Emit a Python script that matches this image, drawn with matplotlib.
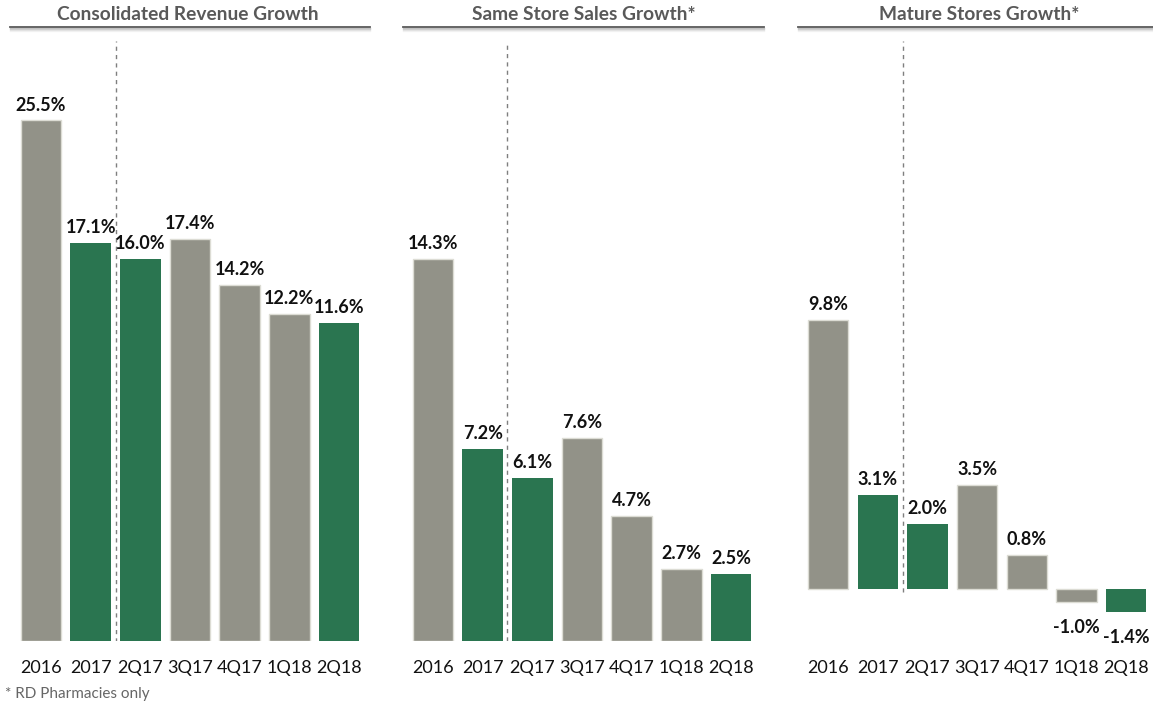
import matplotlib
matplotlib.use("Agg")
import matplotlib.pyplot as plt
from matplotlib.lines import Line2D

plt.rcParams["font.family"] = ["Lato", "DejaVu Sans"]

# data
periods = ["2016", "2017", "2Q17", "3Q17", "4Q17", "1Q18", "2Q18"]
highlight = [False, True, True, False, False, False, True]

titles = ["Consolidated Revenue Growth", "Same Store Sales Growth*", "Mature Stores Growth*"]
revenue_growth = [25.5, 17.1, 16.0, 17.4, 14.2, 12.2, 11.6]
same_store_growth = [14.3, 7.2, 6.1, 7.6, 4.7, 2.7, 2.5]
mature_store_growth = [9.8, 3.1, 2.0, 3.5, 0.8, -1.0, -1.4]
footnote = "* RD Pharmacies only"

GRAY = "#929288"
GREEN = "#2a7550"
W, H = 1153, 706


def fx(px):
    return px / W


def fy(py):
    return 1 - py / H


def draw_panel(fig, left_px, base, ylim, values, title, line_span, title_x):
    spacing = 49.65
    ax = fig.add_axes([fx(left_px), fy(641), fx(7 * spacing), (641 - 41) / H])
    x = list(range(len(values)))
    colors = [GREEN if h else GRAY for h in highlight]
    edges = ["none" if h else "#dcdcd4" for h in highlight]
    heights = [v - base for v in values]
    ax.bar(x, heights, bottom=base, width=0.815, color=colors,
           edgecolor=edges, linewidth=1.0, zorder=2)
    for xi, v in zip(x, values):
        if v >= 0:
            ax.annotate(f"{v:.1f}%", (xi, v), xytext=(0, 5), textcoords="offset points",
                        ha="center", va="bottom", fontsize=13, fontweight="bold",
                        color="#111111")
        else:
            ax.annotate(f"{v:.1f}%", (xi, v), xytext=(0, -12), textcoords="offset points",
                        ha="center", va="top", fontsize=13, fontweight="bold",
                        color="#111111")
    ax.vlines(1.5, min(base, 0) - (0.1 if base < 0 else 0), ylim[1], colors="#7f7f7f",
              linestyles=(0, (3, 3)), linewidth=1.0, zorder=1)
    ax.set_xlim(-0.5, 6.5)
    ax.set_ylim(*ylim)
    ax.set_xticks(x)
    ax.set_xticklabels(periods, fontsize=13, color="#111111")
    ax.tick_params(axis="x", length=0, pad=14)
    ax.set_yticks([])
    for s in ax.spines.values():
        s.set_visible(False)
    ax.patch.set_alpha(0)

    # title with underline and soft shadow
    fig.text(fx(title_x), fy(15), title, ha="center", va="center",
             fontsize=13.8, fontweight="bold", color="#595959")
    x0, x1 = line_span
    for k, a in enumerate([0.22, 0.14, 0.08, 0.04]):
        fig.add_artist(Line2D([fx(x0), fx(x1)], [fy(28 + k), fy(28 + k)],
                              color="#000000", alpha=a, linewidth=1.0))
    fig.add_artist(Line2D([fx(x0), fx(x1)], [fy(26.5), fy(26.5)],
                          color="#595959", linewidth=1.3))
    return ax


fig = plt.figure(figsize=(W / 100, H / 100), dpi=100)

draw_panel(fig, 16.2, -10.2, (-10.2, -10.2 + 600 / 14.58), revenue_growth,
           titles[0], (10, 370), 188)
draw_panel(fig, 408.2, 0.0, (0.0, 600 / 26.7), same_store_growth,
           titles[1], (403, 764), 584)
draw_panel(fig, 803.4, -0.5, (-0.5 - 52 / 26.1, -0.5 + 548 / 26.1), mature_store_growth,
           titles[2], (798, 1153), 979)

fig.text(fx(5), fy(694), footnote, ha="left", va="center", fontsize=11, color="#666666")

fig.savefig("out.png", dpi=100)
